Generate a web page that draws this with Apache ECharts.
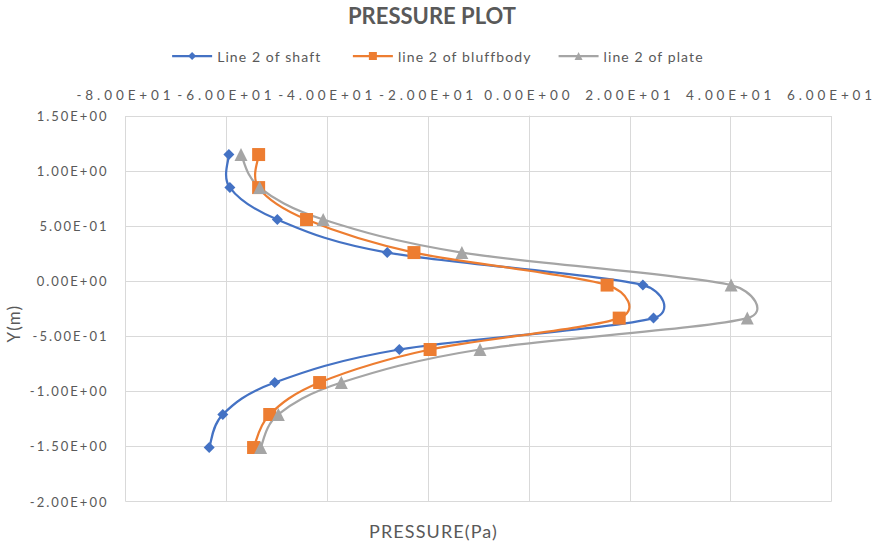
<!DOCTYPE html>
<html>
<head>
<meta charset="utf-8">
<script src="https://cdn.jsdelivr.net/npm/echarts@6/dist/echarts.min.js"></script>
<style>
  html, body { margin: 0; padding: 0; background: #ffffff; }
  #chart { width: 880px; height: 545px; }
  /* Office-style loose tracking for the chart texts */
  #chart svg text { letter-spacing: 1.1px; }
  #chart svg text[style*="bold"] { letter-spacing: 0; }
  #chart svg text[style*="Calibri"] { letter-spacing: 2px; }
  #chart svg text[style*="Carlito"] { letter-spacing: 3.9px; }
</style>
</head>
<body>
<div id="chart"></div>
<script>
// Measurement heights (m) along line 2
const yPositions = [1.15, 0.85, 0.56, 0.26, -0.035, -0.335, -0.62, -0.92, -1.21, -1.51];
// Pressure (Pa) at each height
const shaftPressure = [-59.5, -59.3, -49.9, -28.1, 22.6, 24.7, -25.7, -50.4, -60.7, -63.4];
const bluffbodyPressure = [-53.6, -53.6, -44.1, -22.8, 15.5, 17.9, -19.6, -41.5, -51.4, -54.6];
const platePressure = [-57.1, -53.4, -40.8, -13.3, 40.1, 43.3, -9.7, -37.2, -49.7, -53.2];

const seriesNames = ['Line 2 of shaft', 'line 2 of bluffbody', 'line 2 of plate'];
const seriesColors = ['#4472C4', '#ED7D31', '#A5A5A5'];
const xRange = [-80, 60, 20];
const yRange = [-2, 1.5, 0.5];

// Scientific notation with a two-digit exponent, e.g. -8.00E+01
function sci(v) {
  if (v === 0) return '0.00E+00';
  const exp = Math.floor(Math.log10(Math.abs(v)) + 1e-9);
  const mant = v / Math.pow(10, exp);
  const sign = exp < 0 ? '-' : '+';
  const e = Math.abs(exp);
  return mant.toFixed(2) + 'E' + sign + (e < 10 ? '0' + e : String(e));
}

function pairs(xs) { return xs.map((x, i) => [x, yPositions[i]]); }

// Catmull-Rom style Bezier through pixel points; each control arm is
// limited to a share of the segment it lies on, so short turns stay round.
function smoothPath(pts, tension, cap) {
  const n = pts.length;
  const dist = (a, b) => Math.hypot(b[0] - a[0], b[1] - a[1]);
  const cps = pts.map((p, i) => {
    const prev = pts[Math.max(i - 1, 0)];
    const next = pts[Math.min(i + 1, n - 1)];
    const tx = (next[0] - prev[0]) * tension;
    const ty = (next[1] - prev[1]) * tension;
    const tl = Math.hypot(tx, ty) || 1;
    const armIn = Math.min(tl, cap * dist(prev, p)) / tl;
    const armOut = Math.min(tl, cap * dist(p, next)) / tl;
    return {
      inX: p[0] - tx * armIn, inY: p[1] - ty * armIn,
      outX: p[0] + tx * armOut, outY: p[1] + ty * armOut
    };
  });
  let d = 'M' + pts[0][0] + ' ' + pts[0][1];
  for (let i = 0; i < n - 1; i++) {
    d += ' C' + cps[i].outX + ' ' + cps[i].outY + ' ' +
         cps[i + 1].inX + ' ' + cps[i + 1].inY + ' ' +
         pts[i + 1][0] + ' ' + pts[i + 1][1];
  }
  return d;
}

const textColor = '#595959';
const gridColor = '#d9d9d9';
const font = 'Lato, "Open Sans", sans-serif';

const chart = echarts.init(document.getElementById('chart'), null, { renderer: 'svg' });

// Curve drawn through the axis scales
function curveSeries(xs, color) {
  return {
    type: 'custom',
    coordinateSystem: 'cartesian2d',
    data: pairs(xs),
    clip: false,
    silent: true,
    z: 2,
    renderItem: function (params, api) {
      if (params.dataIndex !== 0) return null;
      const pts = xs.map((x, i) => api.coord([x, yPositions[i]]));
      return {
        type: 'path',
        shape: { pathData: smoothPath(pts, 1 / 6, 0.6) },
        style: { fill: 'none', stroke: color, lineWidth: 2.25, lineJoin: 'round' }
      };
    }
  };
}

// Markers (and legend entry) for one data set
function markerSeries(name, xs, color, symbol, size) {
  return {
    name: name,
    type: 'line',
    data: pairs(xs),
    symbol: symbol,
    symbolSize: size,
    showAllSymbol: true,
    lineStyle: { color: color, width: 2.25, opacity: 0 },
    itemStyle: { color: color },
    emphasis: { disabled: true },
    z: 3
  };
}

chart.setOption({
  animation: false,
  textStyle: { fontFamily: font },
  title: {
    text: 'PRESSURE PLOT',
    left: 343,
    top: -1,
    textStyle: { color: textColor, fontSize: 22, fontWeight: 'bold', fontFamily: font }
  },
  legend: {
    top: 44,
    left: 166,
    itemWidth: 40,
    itemHeight: 10,
    itemGap: 47,
    textStyle: { color: textColor, fontSize: 14, fontFamily: font },
    data: seriesNames.map((n, i) => ({
      name: n,
      lineStyle: { color: seriesColors[i], width: 2.25, opacity: 1 }
    }))
  },
  grid: {
    left: 125.5, right: 48.5, top: 116, bottom: 43.5,
    containLabel: false, outerBoundsMode: 'none'
  },
  xAxis: {
    type: 'value',
    position: 'top',
    min: xRange[0], max: xRange[1], interval: xRange[2],
    name: 'PRESSURE(Pa)',
    nameLocation: 'middle',
    nameGap: -424,
    nameTextStyle: { color: textColor, fontSize: 18, fontFamily: font, padding: [0, 90, 0, 0] },
    axisLine: { show: false },
    axisTick: { show: false },
    axisLabel: {
      color: textColor, fontSize: 13.5, fontFamily: 'Lato, Carlito, sans-serif',
      margin: 14, hideOverlap: false, formatter: sci
    },
    splitLine: { show: true, lineStyle: { color: gridColor, width: 1 } }
  },
  yAxis: {
    type: 'value',
    min: yRange[0], max: yRange[1], interval: yRange[2],
    name: 'Y(m)',
    nameLocation: 'middle',
    nameGap: 104,
    nameRotate: 90,
    nameTextStyle: { color: textColor, fontSize: 17, fontFamily: font, padding: [0, 30, 0, 0] },
    axisLine: { show: true, lineStyle: { color: gridColor } },
    axisTick: { show: false },
    axisLabel: {
      color: textColor, fontSize: 13, fontFamily: 'Lato, Calibri, sans-serif',
      margin: 17, formatter: sci
    },
    splitLine: { show: true, lineStyle: { color: gridColor, width: 1 } }
  },
  series: [
    curveSeries(shaftPressure, seriesColors[0]),
    curveSeries(bluffbodyPressure, seriesColors[1]),
    curveSeries(platePressure, seriesColors[2]),
    markerSeries(seriesNames[0], shaftPressure, seriesColors[0], 'diamond', 11),
    markerSeries(seriesNames[1], bluffbodyPressure, seriesColors[1], 'rect', 13),
    markerSeries(seriesNames[2], platePressure, seriesColors[2], 'triangle', 13)
  ]
});
</script>
</body>
</html>
